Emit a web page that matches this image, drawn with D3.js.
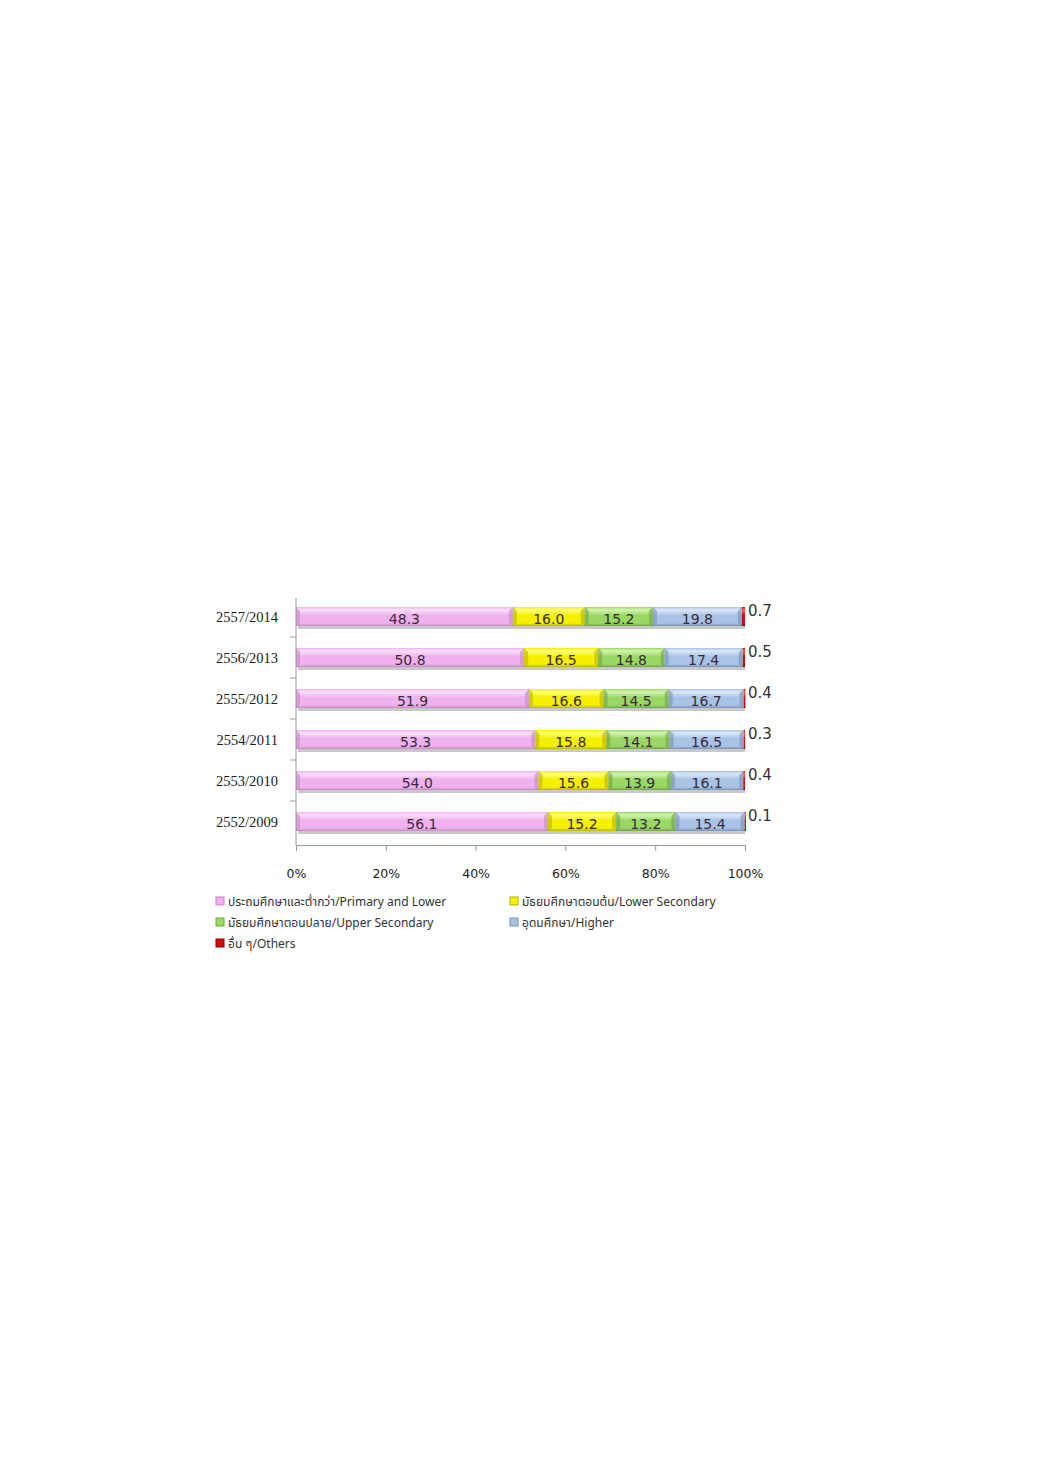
<!DOCTYPE html>
<meta charset="utf-8">
<html>
<head>
    <title>ระดับการศึกษา</title>
    <script src="https://cdn.jsdelivr.net/npm/d3@7"></script>
    <style>
        html, body { margin: 0; padding: 0; background: #fff; }
        svg { display: block; }
    </style>
</head>
<body>
<svg id="svg" width="1040" height="1471"></svg>
<script>
// ข้อมูล
var years = ["2557/2014", "2556/2013", "2555/2012", "2554/2011", "2553/2010", "2552/2009"]
var primary = [48.3, 50.8, 51.9, 53.3, 54.0, 56.1]
var lowerSec = [16.0, 16.5, 16.6, 15.8, 15.6, 15.2]
var upperSec = [15.2, 14.8, 14.5, 14.1, 13.9, 13.2]
var higher = [19.8, 17.4, 16.7, 16.5, 16.1, 15.4]
var others = [0.7, 0.5, 0.4, 0.3, 0.4, 0.1]
var xTicks = [0, 20, 40, 60, 80, 100]
var seriesNames = [
  "ประถมศึกษาและต่ำกว่า/Primary and Lower",
  "มัธยมศึกษาตอนต้น/Lower Secondary",
  "มัธยมศึกษาตอนปลาย/Upper Secondary",
  "อุดมศึกษา/Higher",
  "อื่น ๆ/Others"
]
var seriesValues = [primary, lowerSec, upperSec, higher, others]
var colors = [
  { top: "#fbe0fb", mid: "#f0b2ee", edge: "#c48ac4" },
  { top: "#ffff80", mid: "#f4f000", edge: "#b8b400" },
  { top: "#d4f5b0", mid: "#9ad866", edge: "#6ea448" },
  { top: "#dce8f8", mid: "#a9c3e6", edge: "#7890b4" },
  { top: "#ff6060", mid: "#cc1010", edge: "#900000" }
]

var svg = d3.select("#svg")
var x = d3.scaleLinear().domain([0, 100]).range([296, 745])
var y = d3.scaleBand().domain(years).range([596, 842]).paddingInner(0).paddingOuter(0)
var barH = 19

// gradients
var defs = svg.append("defs")
colors.forEach(function (c, i) {
  var g = defs.append("linearGradient").attr("id", "g" + i)
    .attr("x1", 0).attr("y1", 0).attr("x2", 0).attr("y2", 1)
  g.append("stop").attr("offset", "0%").attr("stop-color", c.mid)
  g.append("stop").attr("offset", "15%").attr("stop-color", c.top)
  g.append("stop").attr("offset", "45%").attr("stop-color", c.mid)
  g.append("stop").attr("offset", "85%").attr("stop-color", c.mid)
  g.append("stop").attr("offset", "100%").attr("stop-color", c.edge)
})

// stacked data
var stacked = years.map(function (yr, r) {
  var acc = 0
  return seriesValues.map(function (vals, s) {
    var d = { year: yr, s: s, v: vals[r], x0: acc, x1: acc + vals[r] }
    acc += vals[r]
    return d
  })
})

// shadow under bars
svg.append("g").selectAll("rect")
  .data(years).enter().append("rect")
  .attr("x", x(0) + 2)
  .attr("y", function (d) { return y(d) + y.bandwidth() / 2 - barH / 2 + barH - 1 })
  .attr("width", x(100) - x(0) - 2)
  .attr("height", 4)
  .attr("fill", "#c8c8c8")

var rows = svg.append("g").selectAll("g")
  .data(stacked).enter().append("g")

rows.selectAll("rect.seg")
  .data(function (d) { return d }).enter().append("rect")
  .attr("class", "seg")
  .attr("x", function (d) { return x(d.x0) })
  .attr("y", function (d) { return y(d.year) + y.bandwidth() / 2 - barH / 2 })
  .attr("width", function (d) { return Math.max(1.5, x(d.x1) - x(d.x0)) })
  .attr("height", barH)
  .attr("fill", function (d) { return "url(#g" + d.s + ")" })

// bevel edges
rows.selectAll("path.bev")
  .data(function (d) { return d.filter(function (e) { return e.s < 4 }) }).enter().append("path")
  .attr("class", "bev")
  .attr("d", function (d) {
    var y0 = y(d.year) + y.bandwidth() / 2 - barH / 2
    var xl = x(d.x0), xr = x(d.x1)
    return "M" + xl + "," + y0 + "L" + (xl + 4) + "," + (y0 + 4) + "L" + (xl + 4) + "," + (y0 + barH - 3) +
      "L" + xl + "," + (y0 + barH) + "Z" +
      "M" + xr + "," + y0 + "L" + (xr - 4) + "," + (y0 + 4) + "L" + (xr - 4) + "," + (y0 + barH - 3) +
      "L" + xr + "," + (y0 + barH) + "Z"
  })
  .attr("fill", function (d) { return colors[d.s].edge })
  .attr("opacity", 0.6)

// value labels
rows.selectAll("text")
  .data(function (d) { return d }).enter().append("text")
  .attr("x", function (d) { return d.s === 4 ? x(100) + 3 : (x(d.x0) + x(d.x1)) / 2 })
  .attr("y", function (d) { return y(d.year) + y.bandwidth() / 2 + (d.s === 4 ? -1 : 7) })
  .attr("text-anchor", function (d) { return d.s === 4 ? "start" : "middle" })
  .attr("font-family", "Tahoma, 'DejaVu Sans', sans-serif")
  .attr("font-size", function (d) { return d.s === 4 ? 15 : 14 })
  .attr("fill", function (d) { return d.s === 4 ? "#333" : "#3a2a3a" })
  .text(function (d) { return d.v.toFixed(1) })

// axes
var axisColor = "#9a9a9a"
var yAxis = svg.append("g")
yAxis.append("line").attr("x1", x(0)).attr("x2", x(0)).attr("y1", 598).attr("y2", 845)
  .attr("stroke", axisColor)
yAxis.selectAll("line.tk").data(years.slice(1)).enter().append("line")
  .attr("class", "tk")
  .attr("x1", x(0) - 6).attr("x2", x(0))
  .attr("y1", function (d) { return y(d) }).attr("y2", function (d) { return y(d) })
  .attr("stroke", axisColor)
yAxis.selectAll("text").data(years).enter().append("text")
  .attr("x", 278)
  .attr("y", function (d) { return y(d) + y.bandwidth() / 2 + 5 })
  .attr("text-anchor", "end")
  .attr("font-family", "'Liberation Serif', 'Times New Roman', serif")
  .attr("font-size", 14.5)
  .attr("fill", "#222")
  .text(function (d) { return d })

var xAxis = svg.append("g").attr("transform", "translate(0,845)")
  .call(d3.axisBottom(x).tickValues(xTicks).tickSize(6).tickFormat(function (d) { return d + "%" }))
xAxis.select(".domain").attr("stroke", axisColor)
xAxis.selectAll(".tick line").attr("stroke", axisColor)
xAxis.selectAll(".tick text")
  .attr("y", 24)
  .attr("font-family", "Tahoma, 'DejaVu Sans', sans-serif")
  .attr("font-size", 12.5)
  .attr("fill", "#222")

// legend
var legendPos = [[216, 902], [510, 902], [216, 923], [510, 923], [216, 944]]
var leg = svg.append("g").selectAll("g")
  .data(seriesNames).enter().append("g")
  .attr("transform", function (d, i) { return "translate(" + legendPos[i][0] + "," + legendPos[i][1] + ")" })
leg.append("rect").attr("x", 0).attr("y", -5).attr("width", 8).attr("height", 8)
  .attr("fill", function (d, i) { return colors[i].mid })
  .attr("stroke", function (d, i) { return colors[i].edge }).attr("stroke-width", 1)
leg.append("text").attr("x", 12).attr("y", 4)
  .attr("font-family", "Tahoma, 'Noto Sans Thai', 'DejaVu Sans', sans-serif")
  .attr("font-size", 12)
  .attr("fill", "#333")
  .text(function (d) { return d })
</script>
</body>
</html>
